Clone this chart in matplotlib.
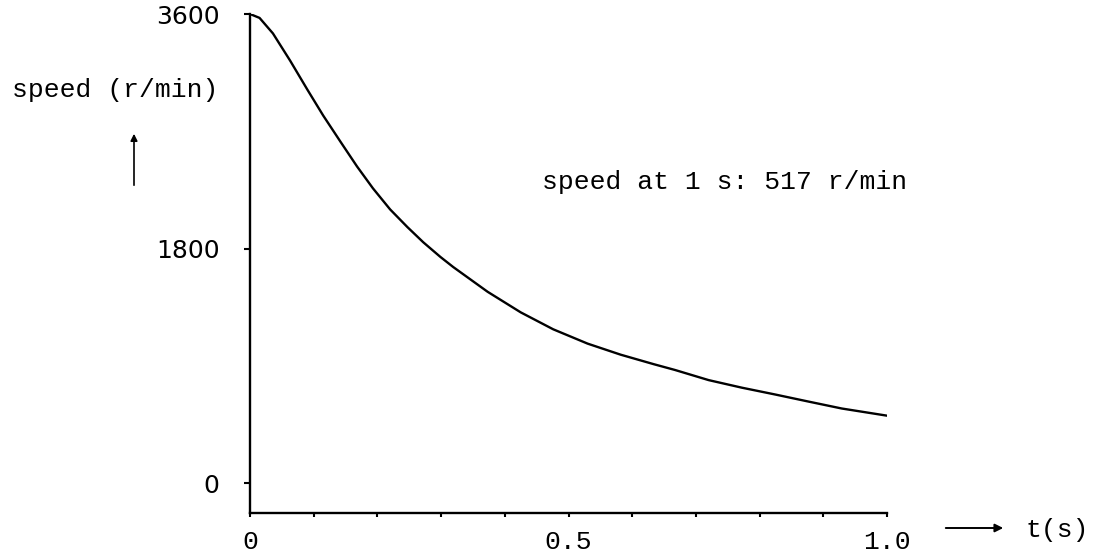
import matplotlib
matplotlib.use("Agg")
import matplotlib.pyplot as plt
import numpy as np

# speed decay of the motor after switch-off
t_s = [0, 0.015, 0.036, 0.063, 0.09, 0.115, 0.142, 0.168, 0.193, 0.22,
       0.247, 0.272, 0.299, 0.319, 0.373, 0.425, 0.476, 0.53, 0.582,
       0.634, 0.667, 0.72, 0.772, 0.824, 0.877, 0.929, 1.0]
speed_rpm = [3600, 3570, 3451, 3242, 3020, 2820, 2620, 2430, 2262, 2100,
             1965, 1848, 1735, 1658, 1468, 1310, 1180, 1070, 985,
             912, 868, 790, 732, 680, 625, 572, 517]

y_ticks = [0, 1800, 3600]
x_ticks = [0, 0.5, 1.0]
x_labels = ["0", "0.5", "1.0"]
note = "speed at 1 s: 517 r/min"

W, H = 1096, 558
fig = plt.figure(figsize=(W / 100, H / 100), dpi=100)
ax = fig.add_axes([250 / W, 45 / H, (887 - 250) / W, (513 - 14) / H])

ax.plot(t_s, speed_rpm, color="black", lw=1.7, solid_capstyle="round",
        solid_joinstyle="round")

ax.set_xlim(0, 1.0)
ax.set_ylim(-230, 3600)

for side in ("top", "right"):
    ax.spines[side].set_visible(False)
for side in ("left", "bottom"):
    ax.spines[side].set_linewidth(1.7)

ax.set_yticks(y_ticks)
ax.set_yticklabels([str(v) for v in y_ticks], fontsize=18, family="DejaVu Sans")
ax.tick_params(axis="y", direction="out", length=4, width=1.5, pad=18)

ax.set_xticks(x_ticks)
ax.set_xticklabels(x_labels, fontsize=19, family="Liberation Mono")
ax.set_xticks(np.arange(0.1, 1.0, 0.1), minor=True)
ax.tick_params(axis="x", which="both", direction="out", length=3, width=1.5, pad=9)

mono = dict(family="Liberation Mono", fontsize=19)

# axis captions with their arrows
fig.text(12 / W, 1 - 90 / H, "speed (r/min)", ha="left", va="center", **mono)
fig.text(1025 / W, 1 - 530 / H, "t(s)", ha="left", va="center", **mono)
ax.annotate("", xy=(134 / W, 1 - 131 / H), xytext=(134 / W, 1 - 188 / H),
            xycoords="figure fraction", textcoords="figure fraction",
            arrowprops=dict(arrowstyle="-|>", lw=1.2, color="black",
                            mutation_scale=10))
ax.annotate("", xy=(1006 / W, 1 - 528 / H), xytext=(943 / W, 1 - 528 / H),
            xycoords="figure fraction", textcoords="figure fraction",
            arrowprops=dict(arrowstyle="-|>", lw=1.4, color="black",
                            mutation_scale=12))

fig.text(542 / W, 1 - 182 / H, note, ha="left", va="center", **mono)

fig.savefig("out.png", dpi=100)
